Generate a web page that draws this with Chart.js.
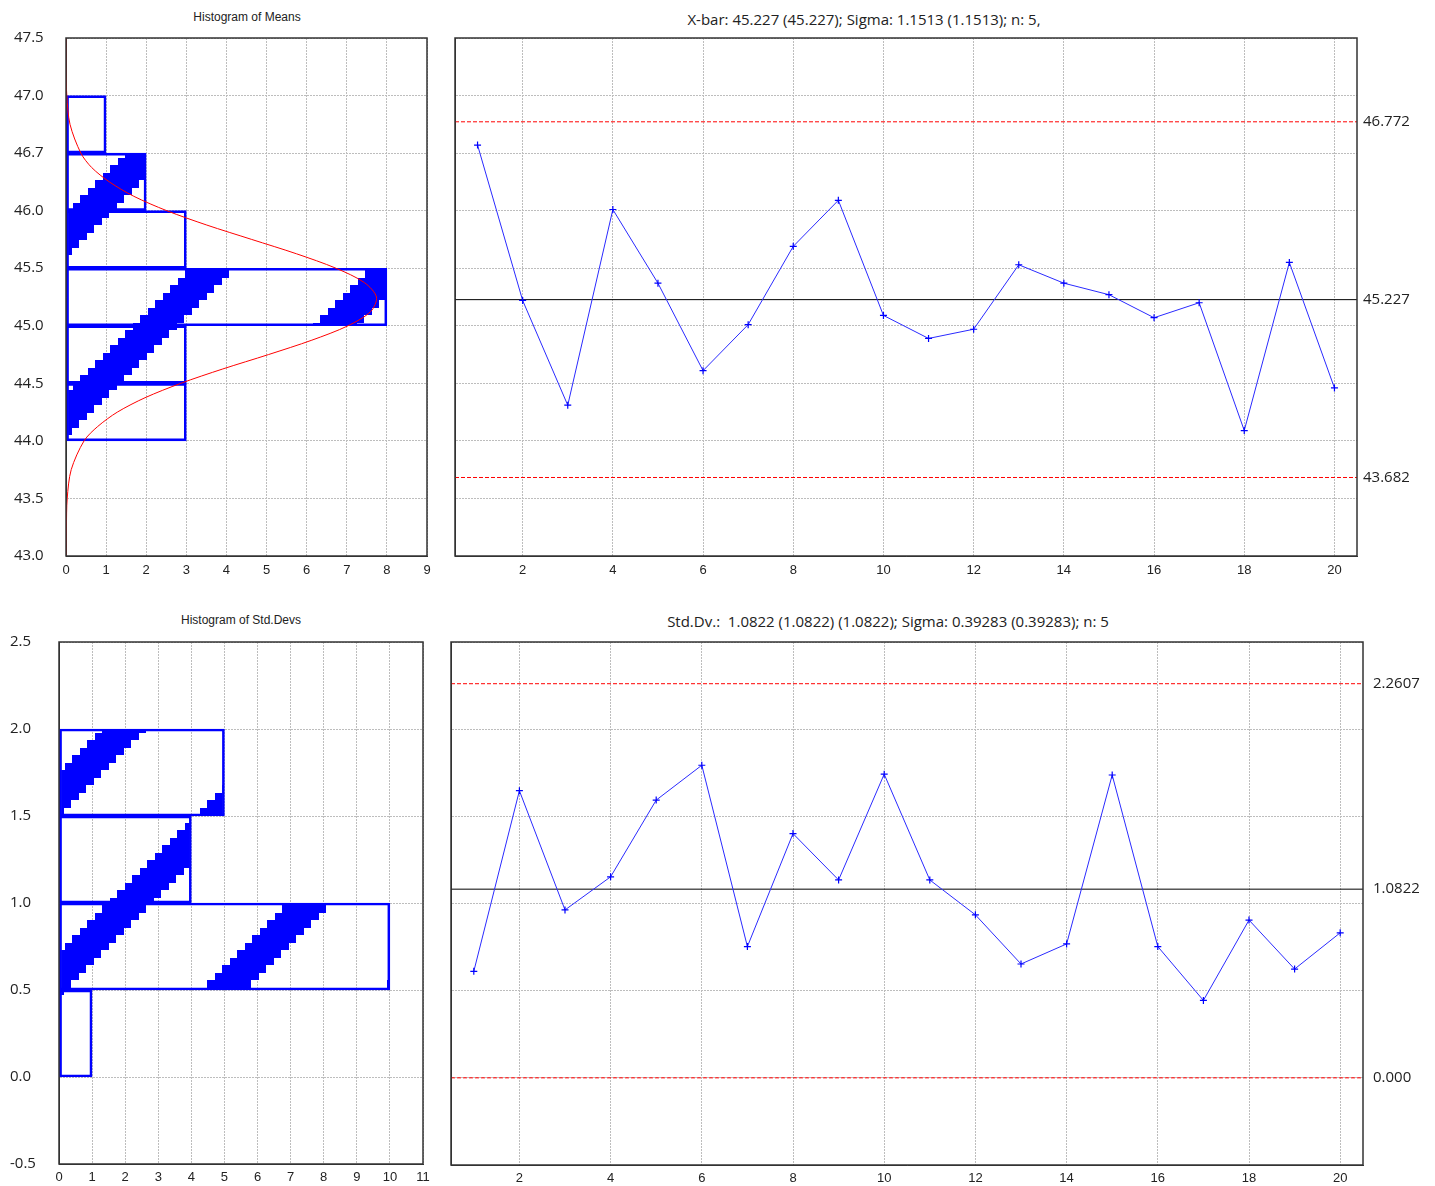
<!DOCTYPE html>
<html>
<head>
<meta charset="utf-8">
<title>X-bar and S chart</title>
<script src="https://cdn.jsdelivr.net/npm/chart.js@4.4.1/dist/chart.umd.min.js"></script>
<style>
  body { margin: 0; background: #fff; width: 1435px; height: 1186px; position: relative; overflow: hidden; }
  canvas { position: absolute; }
  .ttl { position: absolute; white-space: pre; transform: translate(-50%, -50%); color: #222; }
  .small { font: 12px "Liberation Sans", Arial, sans-serif; }
  .big { font: 15px "Open Sans", sans-serif; }
</style>
</head>
<body>
<div class="ttl small" style="left:247px;top:17px">Histogram of Means</div>
<div class="ttl big" style="left:864px;top:19px">X-bar: 45.227 (45.227); Sigma: 1.1513 (1.1513); n: 5,</div>
<div class="ttl small" style="left:241px;top:620px">Histogram of Std.Devs</div>
<div class="ttl big" style="left:888px;top:621px">Std.Dv.:  1.0822 (1.0822) (1.0822); Sigma: 0.39283 (0.39283); n: 5</div>

<canvas id="histMeans" width="440" height="590" style="left:0;top:0"></canvas>
<canvas id="xbarChart" width="995" height="590" style="left:440px;top:0"></canvas>
<canvas id="histStd" width="440" height="596" style="left:0;top:590px"></canvas>
<canvas id="sChart" width="995" height="596" style="left:440px;top:590px"></canvas>

<script>
// samples
const sampleNo = [1, 2, 3, 4, 5, 6, 7, 8, 9, 10, 11, 12, 13, 14, 15, 16, 17, 18, 19, 20];
const xbarMeans = [46.57, 45.22, 44.31, 46.01, 45.37, 44.61, 45.01, 45.69, 46.09, 45.09,
                   44.89, 44.97, 45.53, 45.37, 45.27, 45.07, 45.20, 44.09, 45.55, 44.46];
const stdDevs = [0.611, 1.647, 0.963, 1.153, 1.593, 1.793, 0.753, 1.401, 1.135, 1.742,
                 1.135, 0.935, 0.653, 0.768, 1.737, 0.753, 0.444, 0.905, 0.624, 0.832];

// control limits (LCL, CL, UCL)
const xbarLimits = [43.682, 45.227, 46.772];
const xbarLimitLabels = ['43.682', '45.227', '46.772'];
const sLimits = [0, 1.0822, 2.2607];
const sLimitLabels = ['0.000', '1.0822', '2.2607'];

// histograms
const meansBinLow = [44.0, 44.5, 45.0, 45.5, 46.0, 46.5];
const meansCounts = [3, 3, 8, 3, 2, 1];
const stdBinLow = [0.0, 0.5, 1.0, 1.5];
const stdCounts = [1, 10, 4, 5];
const binWidth = 0.5;

// fitted normal curve
const curveLevels = [43.0, 43.25, 43.5, 43.75, 44.0, 44.125, 44.25, 44.375, 44.5, 44.625, 44.75, 44.875,
                     45.0, 45.125, 45.25, 45.375, 45.5, 45.625, 45.75, 45.875, 46.0, 46.125, 46.25,
                     46.375, 46.5, 46.75, 47.0, 47.25, 47.5];
const curveFreq = [0.00, 0.01, 0.03, 0.13, 0.45, 0.79, 1.28, 1.97, 2.86, 3.91, 5.05, 6.13,
                   7.03, 7.60, 7.74, 7.44, 6.73, 5.75, 4.63, 3.51, 2.51, 1.69, 1.08,
                   0.64, 0.37, 0.10, 0.02, 0.00, 0.00];

// tick labels
const meansTickLabels = ['43.0', '43.5', '44.0', '44.5', '45.0', '45.5', '46.0', '46.7', '47.0', '47.5'];
const stdTickLabels = ['-0.5', '0.0', '0.5', '1.0', '1.5', '2.0', '2.5'];
const sampleTicks = [2, 4, 6, 8, 10, 12, 14, 16, 18, 20];

Chart.defaults.font.family = "'Liberation Sans', Arial, sans-serif";
Chart.defaults.color = '#222';
Chart.defaults.animation = false;

const gridColor = '#bdbdbd';
const gridDash = [2, 1];
const yFont = { family: "'Open Sans', sans-serif", size: 15 };
const xFont = { size: 13 };

const framePlugin = {
  id: 'frame',
  afterDatasetsDraw(chart) {
    const a = chart.chartArea;
    const ctx = chart.ctx;
    ctx.save();
    ctx.strokeStyle = '#333';
    ctx.lineWidth = 1.5;
    ctx.strokeRect(a.left, a.top, a.right - a.left, a.bottom - a.top);
    ctx.restore();
  }
};

function fixWidth(w) {
  return s => { s.width = w; };
}
function fixHeight(h) {
  return s => { s.height = h; };
}

// stair-stepped diagonal stripes; a stripe starts where (x + y) mod 180 == offset on the canvas
function makeHatch(offset) {
  const tile = document.createElement('canvas');
  tile.width = 180;
  tile.height = 180;
  const c = tile.getContext('2d');
  c.fillStyle = '#0000ff';
  for (let r = 0; r < 24; r++) {
    const y0 = Math.round(r * 7.5);
    const y1 = Math.round((r + 1) * 7.5);
    [offset - 180, offset, offset + 180, offset + 360].forEach(o => {
      const x0 = Math.round(o - (y0 + y1) / 2);
      c.fillRect(x0, y0, 44, y1 - y0);
    });
  }
  return c.createPattern(tile, 'repeat');
}

function histogram(id, binLow, counts, opts) {
  const datasets = [{
    type: 'bar',
    data: binLow.map((b, i) => ({ x: counts[i], y: b + binWidth / 2 })),
    backgroundColor: makeHatch(opts.hatch),
    borderColor: '#0000ff',
    borderWidth: 2,
    borderSkipped: false,
    barPercentage: 1,
    categoryPercentage: 1,
    order: 2
  }];
  if (opts.curve) {
    datasets.unshift({
      type: 'line',
      data: opts.curve.levels.map((v, i) => ({ x: opts.curve.freq[i], y: v })),
      borderColor: '#ff0000',
      borderWidth: 1,
      pointRadius: 0,
      tension: 0.3,
      order: 1
    });
  }
  return new Chart(document.getElementById(id), {
    type: 'bar',
    data: { datasets },
    plugins: [framePlugin],
    options: {
      responsive: false,
      indexAxis: 'y',
      layout: { padding: opts.padding },
      plugins: { legend: { display: false }, tooltip: { enabled: false } },
      scales: {
        x: {
          type: 'linear',
          min: 0,
          max: opts.xMax,
          ticks: { stepSize: 1, padding: opts.xPad, font: xFont },
          grid: { color: gridColor, drawTicks: false },
          border: { color: '#333', dash: gridDash },
          afterFit: fixHeight(opts.xHeight)
        },
        y: {
          type: 'linear',
          offset: false,
          min: opts.yMin,
          max: opts.yMax,
          ticks: {
            stepSize: 0.5,
            padding: 0,
            crossAlign: 'far',
            font: yFont,
            callback: (v, i) => opts.yLabels[i]
          },
          grid: { color: gridColor, drawTicks: false, offset: false },
          border: { color: '#333', dash: gridDash },
          afterFit: fixWidth(opts.yWidth)
        }
      }
    }
  });
}

function controlChart(id, values, limits, limitLabels, opts) {
  const xMin = 0.5;
  const xMax = 20.5;
  const limitLine = (v, color, dash) => ({
    data: [{ x: xMin, y: v }, { x: xMax, y: v }],
    borderColor: color,
    borderWidth: 1,
    borderDash: dash,
    pointRadius: 0
  });
  return new Chart(document.getElementById(id), {
    type: 'line',
    data: {
      datasets: [
        {
          data: sampleNo.map((n, i) => ({ x: n, y: values[i] })),
          borderColor: '#2a2aff',
          borderWidth: 1,
          pointStyle: 'cross',
          pointRadius: 3.5,
          pointBorderWidth: 1.2,
          pointBorderColor: '#0000ff'
        },
        limitLine(limits[2], '#ff0000', [4, 2]),
        limitLine(limits[1], '#000000', []),
        limitLine(limits[0], '#ff0000', [4, 2])
      ]
    },
    plugins: [framePlugin],
    options: {
      responsive: false,
      layout: { padding: { top: opts.top, left: 0, right: 0, bottom: 0 } },
      plugins: { legend: { display: false }, tooltip: { enabled: false } },
      scales: {
        x: {
          type: 'linear',
          min: xMin,
          max: xMax,
          afterBuildTicks: axis => { axis.ticks = sampleTicks.map(v => ({ value: v })); },
          ticks: { padding: opts.xPad, font: xFont },
          grid: { color: gridColor, drawTicks: false },
          border: { color: '#333', dash: gridDash },
          afterFit: fixHeight(opts.xHeight)
        },
        y: {
          type: 'linear',
          min: opts.yMin,
          max: opts.yMax,
          ticks: { stepSize: 0.5, display: false },
          grid: { color: gridColor, drawTicks: false },
          border: { color: '#333', dash: gridDash },
          afterFit: fixWidth(opts.leftWidth)
        },
        yr: {
          type: 'linear',
          position: 'right',
          min: opts.yMin,
          max: opts.yMax,
          afterBuildTicks: axis => { axis.ticks = limits.map(v => ({ value: v })); },
          ticks: { padding: opts.rightPad, font: yFont, callback: (v, i) => limitLabels[i] },
          grid: { display: false, drawTicks: false },
          border: { display: false },
          afterFit: fixWidth(opts.rightWidth)
        }
      }
    }
  });
}

histogram('histMeans', meansBinLow, meansCounts, {
  hatch: 99,
  curve: { levels: curveLevels, freq: curveFreq },
  padding: { top: 38, right: 13, left: 14, bottom: 0 },
  xMax: 9, xPad: 7, xHeight: 34,
  yMin: 43, yMax: 47.5, yWidth: 52,
  yLabels: meansTickLabels
});

histogram('histStd', stdBinLow, stdCounts, {
  hatch: 61,
  padding: { top: 52, right: 17, left: 10, bottom: 0 },
  xMax: 11, xPad: 6, xHeight: 22,
  yMin: -0.5, yMax: 2.5, yWidth: 49,
  yLabels: stdTickLabels
});

controlChart('xbarChart', xbarMeans, xbarLimits, xbarLimitLabels, {
  top: 38, xPad: 7, xHeight: 34,
  yMin: 43, yMax: 47.5,
  leftWidth: 15, rightWidth: 78, rightPad: 6
});

controlChart('sChart', stdDevs, sLimits, sLimitLabels, {
  top: 52, xPad: 6, xHeight: 21,
  yMin: -0.5, yMax: 2.5,
  leftWidth: 11, rightWidth: 72, rightPad: 10
});
</script>
</body>
</html>
